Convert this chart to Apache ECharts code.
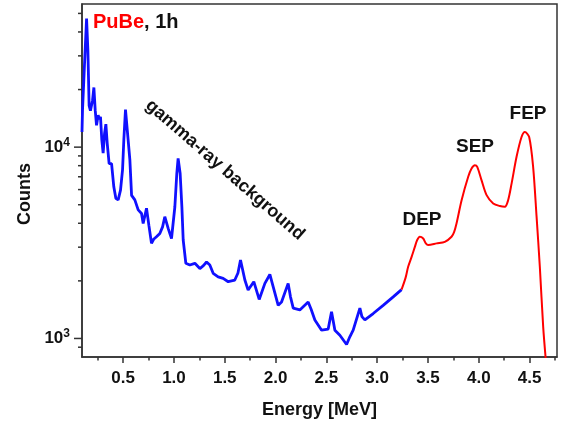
<!DOCTYPE html>
<html>
<head>
<meta charset="utf-8">
<script src="https://cdn.jsdelivr.net/npm/echarts@6/dist/echarts.min.js"></script>
<style>html,body{margin:0;padding:0;background:#fff;}#c{width:562px;height:426px;}</style>
</head>
<body>
<div id="c"></div>
<script>
// ---- data ----
const blueEnergy = [0.095,0.10,0.12,0.14,0.153,0.165,0.178,0.199,0.212,0.225,0.238,0.254,0.265,0.277,0.290,0.303,0.317,0.330,0.343,0.362,0.386,0.408,0.428,0.451,0.474,0.494,0.507,0.523,0.549,0.566,0.583,0.615,0.648,0.681,0.697,0.730,0.753,0.779,0.800,0.828,0.845,0.861,0.888,0.910,0.943,0.976,1.009,1.028,1.041,1.061,1.078,1.091,1.117,1.156,1.206,1.255,1.290,1.321,1.353,1.386,1.435,1.484,1.534,1.599,1.630,1.655,1.675,1.698,1.730,1.786,1.839,1.895,1.944,1.977,2.026,2.059,2.124,2.147,2.174,2.239,2.321,2.350,2.387,2.453,2.518,2.551,2.584,2.633,2.699,2.731,2.764,2.830,2.850,2.879,2.961,3.059,3.158,3.240];
const blueCounts = [12000,15600,27400,47000,32000,16500,15500,17600,20500,15600,13000,14700,14000,14400,10900,9300,11800,13200,10500,8200,8200,6200,5400,5300,5960,7600,11000,15700,10900,8600,5600,5300,4700,4500,3990,4790,3910,3140,3300,3400,3350,3540,3830,4330,3760,3330,4880,7280,8730,7280,4880,3270,2470,2420,2470,2320,2400,2510,2420,2190,2100,2060,1980,2020,2200,2570,2300,2020,1790,1980,1600,1940,2160,1860,1490,1550,1940,1650,1440,1410,1550,1420,1250,1105,1120,1380,1105,1040,930,1020,1105,1440,1300,1250,1350,1490,1650,1800];
const redEnergy = [3.240,3.280,3.305,3.339,3.371,3.394,3.420,3.453,3.479,3.502,3.585,3.666,3.732,3.758,3.781,3.831,3.896,3.929,3.962,3.985,4.027,4.077,4.142,4.208,4.257,4.289,4.323,4.372,4.421,4.454,4.496,4.535,4.569,4.601,4.634,4.660];
const redCounts = [1800,2080,2370,2670,3010,3270,3400,3330,3140,3080,3140,3200,3400,3610,3990,5280,7000,7740,8050,7890,6720,5610,5080,4920,4880,5280,6450,8900,11300,12000,11300,7890,4330,2370,1150,770];
const xMajorTicks = [0.5,1.0,1.5,2.0,2.5,3.0,3.5,4.0,4.5];
const xMinorTicks = [0.25,0.75,1.25,1.75,2.25,2.75,3.25,3.75,4.25,4.75];
const yMajorTicks = [1000,10000];
const yMinorTicks = [900,2000,3000,4000,5000,6000,7000,8000,9000,20000,30000,40000,50000];
const X_MIN = 0.095, X_MAX = 4.77, Y_MIN = 800, Y_MAX = 56000;
const peakLabels = ['DEP','SEP','FEP'];

const FONT = 'Liberation Sans, Arial, sans-serif';
const chart = echarts.init(document.getElementById('c'), null, {renderer:'canvas'});
const zip = (a,b) => a.map((v,i)=>[v,b[i]]);
const tickData = yMajorTicks.map(v=>[X_MIN,v,1]).concat(yMinorTicks.map(v=>[X_MIN,v,0]));

chart.setOption({
  animation:false,
  backgroundColor:'#fff',
  grid:{left:82,right:5,top:4,bottom:69,show:true,borderColor:'#333',borderWidth:1.5,containLabel:false},
  xAxis:[{
    type:'value', min:X_MIN, max:X_MAX,
    name:'Energy [MeV]', nameLocation:'middle', nameGap:44,
    nameTextStyle:{fontFamily:FONT,fontWeight:'bold',fontSize:18,color:'#111'},
    axisLine:{lineStyle:{color:'#333',width:1.5}},
    axisTick:{length:6,lineStyle:{color:'#333',width:1.5},customValues:xMajorTicks},
    axisLabel:{customValues:xMajorTicks,margin:13,fontFamily:FONT,fontWeight:'bold',fontSize:17,color:'#111',
      formatter:v=>Number(v).toFixed(1)},
    splitLine:{show:false}
  },{
    type:'value', min:X_MIN, max:X_MAX, position:'bottom',
    axisLine:{show:false},
    axisTick:{length:3.5,lineStyle:{color:'#333',width:1.5},customValues:xMinorTicks},
    axisLabel:{show:false},
    splitLine:{show:false}
  }],
  yAxis:{
    type:'log', logBase:10, min:Y_MIN, max:Y_MAX,
    axisLine:{show:true,lineStyle:{color:'#333',width:1.5}},
    axisTick:{show:false},
    splitLine:{show:false},
    axisLabel:{margin:12,showMinLabel:false,showMaxLabel:false,
      formatter:function(v){const e=Math.round(Math.log10(v)); if(Math.abs(Math.pow(10,e)-v)>1e-6*v) return ''; return '{b|10}{s|'+e+'}';},
      rich:{b:{fontFamily:FONT,fontWeight:'bold',fontSize:17,color:'#111'},
            s:{fontFamily:FONT,fontWeight:'bold',fontSize:12,color:'#111',padding:[0,0,9,0]}}}
  },
  series:[
    {type:'line',name:'background',data:zip(blueEnergy,blueCounts),showSymbol:false,
     lineStyle:{color:'#1010ff',width:2.8},itemStyle:{color:'#1010ff'},z:3},
    {type:'line',name:'neutron',data:zip(redEnergy,redCounts),showSymbol:false,smooth:0.3,
     lineStyle:{color:'#ff0000',width:2},itemStyle:{color:'#ff0000'},z:3},
    {type:'custom',name:'yticks',data:tickData,clip:false,silent:true,z:5,
     renderItem:function(params,api){
       const p=api.coord([api.value(0),api.value(1)]);
       const len=api.value(2)?8:4;
       return {type:'line',shape:{x1:p[0]-len,y1:p[1],x2:p[0],y2:p[1]},style:{stroke:'#333',lineWidth:1.5}};
     }}
  ],
  graphic:[
    {type:'text',x:25,y:194,rotation:Math.PI/2,style:{text:'Counts',fontFamily:FONT,fontWeight:'bold',fontSize:18,fill:'#111',align:'center',verticalAlign:'middle'}},
    {type:'text',left:93,top:12,style:{text:'{r|PuBe}{k|, 1h}',rich:{
      r:{fontFamily:FONT,fontWeight:'bold',fontSize:20,fill:'#ff0000'},
      k:{fontFamily:FONT,fontWeight:'bold',fontSize:20,fill:'#111'}}}},
    {type:'text',x:225,y:170,rotation:-0.716,style:{text:'gamma-ray background',fontFamily:FONT,fontWeight:'bold',fontSize:18,fill:'#111',align:'center',verticalAlign:'middle'}},
    {type:'text',x:422,y:220,style:{text:peakLabels[0],fontFamily:FONT,fontWeight:'bold',fontSize:19,fill:'#111',align:'center',verticalAlign:'middle'}},
    {type:'text',x:475,y:147,style:{text:peakLabels[1],fontFamily:FONT,fontWeight:'bold',fontSize:19,fill:'#111',align:'center',verticalAlign:'middle'}},
    {type:'text',x:528,y:114,style:{text:peakLabels[2],fontFamily:FONT,fontWeight:'bold',fontSize:19,fill:'#111',align:'center',verticalAlign:'middle'}}
  ]
});
</script>
</body>
</html>
